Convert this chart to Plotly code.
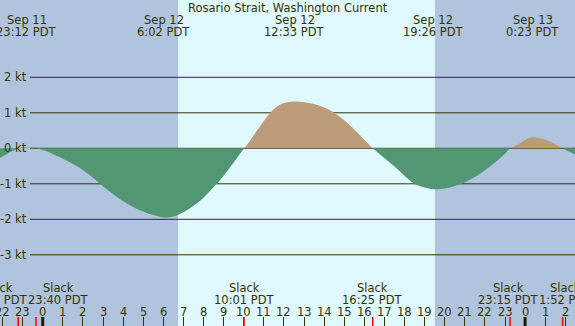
import plotly.graph_objects as go

# ---------------- data (hours from Sep 12 00:00 PDT) ----------------
hours = [-2.3, -1.75, -1.217,
         -0.8, -0.333,
         0.2, 0.8, 1.4, 2.0, 2.5, 3.0, 3.5, 4.0, 4.5, 5.0, 5.5, 6.033, 6.5, 7.0, 7.5, 8.0, 8.5, 9.0, 9.5, 10.017,
         10.3, 10.6, 10.9, 11.2, 11.5, 11.8, 12.1, 12.55, 13.0, 13.5, 14.0, 14.4, 14.8, 15.2, 15.6, 16.0, 16.417,
         16.8, 17.2, 17.6, 18.0, 18.4, 18.8, 19.433, 20.0, 20.5, 21.0, 21.5, 22.0, 22.5, 23.0, 23.25,
         23.75, 24.08, 24.383, 24.9, 25.4, 25.867,
         26.2, 26.6]
knots = [-0.32, -0.15, 0.0,
         0.03, 0.0,
         -0.08, -0.24, -0.41, -0.61, -0.83, -1.07, -1.29, -1.49, -1.65, -1.78, -1.88, -1.95, -1.92, -1.80, -1.62,
         -1.39, -1.10, -0.77, -0.40, 0.0,
         0.20, 0.45, 0.69, 0.92, 1.11, 1.23, 1.29, 1.32, 1.30, 1.25, 1.15, 1.04, 0.88, 0.69, 0.47, 0.24, 0.0,
         -0.18, -0.37, -0.56, -0.77, -0.96, -1.07, -1.15, -1.13, -1.06, -0.96, -0.81, -0.62, -0.40, -0.15, 0.0,
         0.14, 0.26, 0.31, 0.26, 0.14, 0.0,
         -0.1, -0.2]

# peak events (top labels)
peak_hours = [-0.8, 6.033, 12.55, 19.433, 24.383]
peak_dates = ["Sep 11", "Sep 12", "Sep 12", "Sep 12", "Sep 13"]
peak_times = ["23:12 PDT", "6:02 PDT", "12:33 PDT", "19:26 PDT", "0:23 PDT"]

# slack events (bottom labels)
slack_hours = [-1.217, -0.333, 10.017, 16.417, 23.25, 25.867]
slack_times = ["22:47 PDT", "23:40 PDT", "10:01 PDT", "16:25 PDT", "23:15 PDT", "1:52 PDT"]
slack_shift = [-21, 22, 0, 0, -2, 3]   # label de-overlap offsets (px)

tick_hours = list(range(-2, 27))
tick_labels = [str(h % 24) for h in tick_hours]
midnights = [0, 24]

y_levels = [2, 1, 0, -1, -2, -3]
y_labels = ["2 kt", "1 kt", "0 kt", "-1 kt", "-2 kt", "-3 kt"]

sunrise, sunset = 6.733, 19.517
title = "Rosario Strait, Washington Current"

# ---------------- style ----------------
W, H = 575, 326
DARK_BG = "#b0c4de"
LIGHT_BG = "#e0f8ff"
EBB = "#529673"
FLOOD = "#bc9b7a"
INK = "#333300"
FONT = "DejaVu Sans"
FS = 11.5


def py(px):
    return 1 - px / H


fig = go.Figure()

# split curve into slack-to-slack segments
segments = []
cur = [(hours[0], knots[0])]
for h, v in zip(hours[1:], knots[1:]):
    cur.append((h, v))
    if v == 0:
        segments.append(cur)
        cur = [(h, v)]
if len(cur) > 1:
    segments.append(cur)

for seg in segments:
    xs = [p[0] for p in seg]
    ys = [p[1] for p in seg]
    col = FLOOD if sum(ys) > 0 else EBB
    fig.add_trace(go.Scatter(x=xs, y=ys, mode="lines", fill="tozeroy",
                             fillcolor=col, line=dict(width=0, shape="spline", color=col),
                             hoverinfo="skip", showlegend=False))

shapes = []
shapes.append(dict(type="rect", xref="x", yref="paper", x0=sunrise, x1=sunset, y0=0, y1=1,
                   fillcolor=LIGHT_BG, line=dict(width=0), layer="below"))
for yv in y_levels:
    shapes.append(dict(type="line", xref="paper", yref="y", x0=30 / W, x1=1, y0=yv, y1=yv,
                       line=dict(color=INK, width=1), layer="below"))
for m in midnights:
    shapes.append(dict(type="line", xref="x", yref="paper", x0=m, x1=m, y0=0, y1=py(317),
                       line=dict(color="#1a1a00", width=3)))
for s in slack_hours:
    shapes.append(dict(type="line", xref="x", yref="paper", x0=s, x1=s, y0=0, y1=py(317),
                       line=dict(color="#ff0000", width=1.5)))

ann = []
font = dict(family=FONT, size=FS, color=INK)
ann.append(dict(text=title, xref="paper", yref="paper", x=0.5, y=py(8), showarrow=False,
                xanchor="center", yanchor="middle", font=font))
for h, d, t in zip(peak_hours, peak_dates, peak_times):
    ann.append(dict(text=d, xref="x", yref="paper", x=h, y=py(20), showarrow=False,
                    xanchor="center", yanchor="middle", font=font))
    ann.append(dict(text=t, xref="x", yref="paper", x=h, y=py(32), showarrow=False,
                    xanchor="center", yanchor="middle", font=font))
for h, t, sh in zip(slack_hours, slack_times, slack_shift):
    ann.append(dict(text="Slack", xref="x", yref="paper", x=h, y=py(287.5), xshift=sh,
                    showarrow=False, xanchor="center", yanchor="middle", font=font))
    ann.append(dict(text=t, xref="x", yref="paper", x=h, y=py(299.5), xshift=sh,
                    showarrow=False, xanchor="center", yanchor="middle", font=font))
for h, t in zip(tick_hours, tick_labels):
    ann.append(dict(text=t, xref="x", yref="paper", x=h, y=py(311.5), showarrow=False,
                    xanchor="center", yanchor="middle", font=font))
for yv, t in zip(y_levels, y_labels):
    ann.append(dict(text=t, xref="paper", yref="y", x=28.5 / W, y=yv, showarrow=False,
                    xanchor="right", yanchor="middle", font=font))

fig.update_layout(
    width=W, height=H,
    margin=dict(l=0, r=0, t=0, b=0),
    paper_bgcolor=DARK_BG, plot_bgcolor=DARK_BG,
    shapes=shapes, annotations=ann,
    showlegend=False,
    xaxis=dict(range=[-42.7 / 20.1, 532.3 / 20.1], showgrid=False, zeroline=False,
               showline=False, ticks="inside", ticklen=9, tickwidth=1, tickcolor=INK,
               tickvals=tick_hours, showticklabels=False, automargin=False, fixedrange=True),
    yaxis=dict(range=[-(H - 148.3) / 35.5, 148.3 / 35.5], showgrid=False, zeroline=False,
               showline=False, showticklabels=False, ticks="", automargin=False, fixedrange=True),
)

fig.write_html("out.html", config={"displayModeBar": False},
               post_script="document.body.style.margin='0';document.body.style.overflow='hidden';")
